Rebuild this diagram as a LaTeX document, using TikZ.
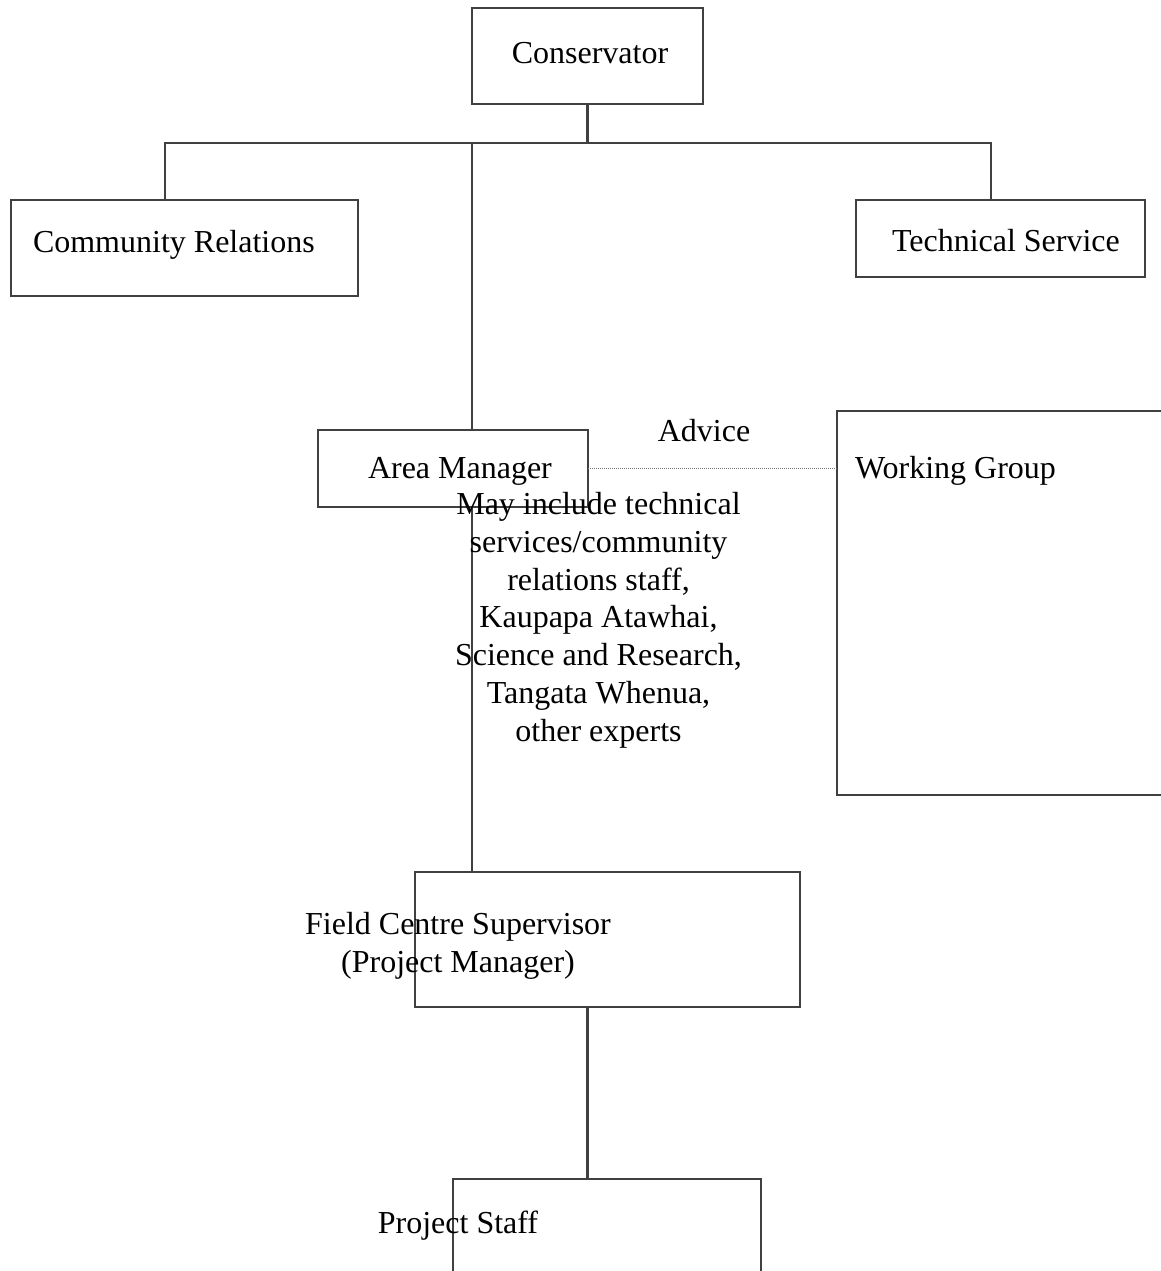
\documentclass[tikz,border=0pt]{standalone}
\usepackage{fontspec}
\setmainfont{Liberation Serif}
\begin{document}
\begin{tikzpicture}[x=0.5pt, y=-0.5pt]

% --- styles ---
\tikzset{
  every node/.style={font=\fontsize{16}{18.85}\selectfont, inner sep=0pt, outer sep=0pt},
  orgbox/.style 2 args={draw=black!75, line width=1.4pt, rectangle,
    minimum width=#1*0.5pt, minimum height=#2*0.5pt},
  link/.style={draw=black!75, line width=1.4pt},
  advicelink/.style={draw=black!55, line width=0.5pt, dash pattern=on 0.5pt off 0.5pt}
}

% --- page frame ---
\clip (0,0) rectangle (1161,1271);

% --- boxes ---
\node[orgbox={231}{96}] (cons) at (587.5,56) {};
\node[orgbox={347}{96}] (comrel) at (184.5,248) {};
\node[orgbox={289}{77}] (techsvc) at (1000.5,238.5) {};
\node[orgbox={270}{77}] (areamgr) at (453,468.5) {};
\node[orgbox={353}{384}] (workgrp) at (1013.5,603) {};
\node[orgbox={385}{135}] (fcs) at (607.5,939.5) {};
\node[orgbox={308}{141}] (staff) at (607,1249.5) {};

% --- connectors ---
\coordinate (busL) at (165,143);
\coordinate (busM) at (472,143);
\coordinate (busR) at (991,143);
\draw[link] (cons.south) -- (cons.south |- busM);
\draw[link] (busL |- comrel.north) -- (busL) -- (busR) -- (busR |- techsvc.north);
\draw[link] (busM) -- (busM |- areamgr.north);
\draw[link] (busM |- areamgr.south) -- (busM |- fcs.north);
\draw[link] (cons.south |- fcs.south) -- (cons.south |- staff.north);
\draw[advicelink] (areamgr.east) -- (areamgr.east -| workgrp.west);

% --- labels (multi-line: base is the last line) ---
\node[anchor=base] (consT) at (590,63) {Conservator};
\node[anchor=base west] (comrelT) at (33,252) {Community Relations};
\node[anchor=base west] (techsvcT) at (892,251) {Technical Service};
\node[anchor=base west] (areamgrT) at (368,478) {Area Manager};
\node[anchor=base] (adviceT) at (704,441) {Advice};
\node[anchor=base west] (workgrpT) at (855,478) {Working Group};
\node[align=center, anchor=base] (membersT) at (598.5,741) {May include technical\\
  services/community\\ relations staff,\\ Kaupapa Atawhai,\\
  Science and Research,\\ Tangata Whenua,\\ other experts};
\node[align=center, anchor=base] (fcsT) at (458,972) {Field Centre Supervisor\\(Project Manager)};
\node[anchor=base] (staffT) at (458,1233) {Project Staff};
\end{tikzpicture}
\end{document}
